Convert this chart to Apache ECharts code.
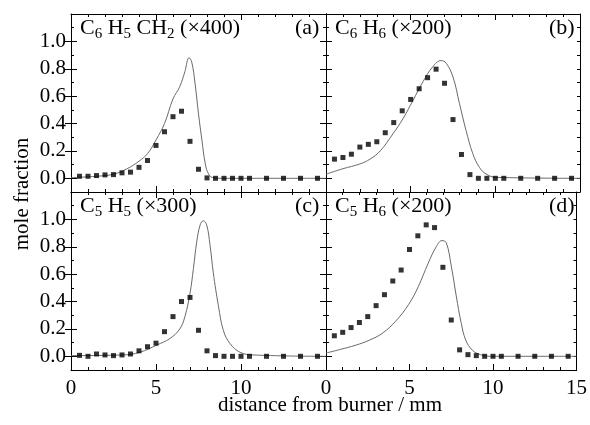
<!DOCTYPE html>
<html>
<head>
<meta charset="utf-8">
<script src="https://cdn.jsdelivr.net/npm/echarts@6/dist/echarts.min.js"></script>
<style>
  html, body { margin: 0; padding: 0; background: #fff; }
  #chart { width: 590px; height: 425px; }
</style>
</head>
<body>
<div id="chart"></div>
<script>
// measurement positions (mm from burner), shared by all four panels
const dist = [0.5, 1, 1.5, 2, 2.5, 3, 3.5, 4, 4.5, 5, 5.5, 6, 6.5, 7, 7.5, 8, 8.5, 9, 9.5, 10, 10.5, 11.5, 12.5, 13.5, 14.5]

// measured (scaled) mole fractions
const benzylMeas = [0.015, 0.015, 0.02, 0.025, 0.027, 0.04, 0.045, 0.08, 0.13, 0.24, 0.34, 0.45, 0.49, 0.27, 0.066, 0.003, 0, 0, 0, 0, 0, 0, 0, 0, 0]
const benzeneMeas = [0.14, 0.152, 0.176, 0.228, 0.248, 0.267, 0.333, 0.407, 0.493, 0.576, 0.654, 0.735, 0.797, 0.694, 0.429, 0.174, 0.027, 0, 0, 0, 0, 0, 0, 0, 0]
const cpdylMeas = [0.007, 0, 0.017, 0.01, 0.005, 0.01, 0.017, 0.04, 0.07, 0.096, 0.18, 0.29, 0.40, 0.43, 0.19, 0.04, 0.005, 0, 0, 0, 0, 0, 0, 0, 0]
const cpdMeas = [0.15, 0.175, 0.21, 0.247, 0.29, 0.37, 0.45, 0.55, 0.63, 0.78, 0.88, 0.96, 0.94, 0.65, 0.265, 0.047, 0.012, 0.005, 0, 0, 0, 0, 0, 0, 0]

// model curves
const benzylModelX = [0, 1.5, 2.5, 3.3, 4.0, 4.5, 5.0, 5.5, 6.0, 6.4, 6.7, 6.94, 7.1, 7.3, 7.5, 7.7, 7.9, 8.1, 8.4, 9, 15]
const benzylModelY = [0.005, 0.015, 0.03, 0.07, 0.125, 0.18, 0.28, 0.40, 0.58, 0.67, 0.78, 0.88, 0.85, 0.69, 0.47, 0.28, 0.105, 0.03, 0.003, 0, 0]
const benzeneModelX = [0, 1.0, 2.0, 2.6, 3.2, 3.96, 4.55, 5.14, 5.73, 6.31, 6.8, 7.1, 7.5, 7.88, 8.27, 8.67, 9.06, 9.45, 10.04, 15]
const benzeneModelY = [0.03, 0.07, 0.105, 0.14, 0.2, 0.326, 0.436, 0.57, 0.706, 0.816, 0.86, 0.84, 0.74, 0.547, 0.35, 0.18, 0.08, 0.032, 0.007, 0]
const cpdylModelX = [0, 3.08, 4.06, 5.04, 5.82, 6.4, 6.7, 7.0, 7.2, 7.4, 7.6, 7.78, 7.98, 8.18, 8.37, 8.67, 8.96, 9.35, 9.94, 10.7, 15]
const cpdylModelY = [0.005, 0.01, 0.03, 0.082, 0.13, 0.2, 0.29, 0.46, 0.64, 0.84, 0.96, 0.99, 0.96, 0.81, 0.61, 0.37, 0.19, 0.094, 0.03, 0.01, 0]
const cpdModelX = [0, 0.82, 1.8, 2.6, 3.37, 4.16, 4.94, 5.53, 6.12, 6.6, 6.94, 7.2, 7.5, 7.8, 8.1, 8.37, 8.76, 9.25, 9.84, 15]
const cpdModelY = [0.024, 0.049, 0.082, 0.118, 0.168, 0.255, 0.377, 0.51, 0.68, 0.8, 0.845, 0.83, 0.66, 0.44, 0.24, 0.118, 0.045, 0.012, 0, 0]

const yMajor = [0, 0.2, 0.4, 0.6, 0.8, 1.0]
const yMinor = [-0.1, 0, 0.1, 0.2, 0.3, 0.4, 0.5, 0.6, 0.7, 0.8, 0.9, 1.0, 1.1, 1.2]

const panels = [
  { name: '{m|C}{s|6}{m| H}{s|5}{m| CH}{s|2}{m| (×400)}', tag: '(a)', meas: benzylMeas, mx: benzylModelX, my: benzylModelY },
  { name: '{m|C}{s|6}{m| H}{s|6}{m| (×200)}', tag: '(b)', meas: benzeneMeas, mx: benzeneModelX, my: benzeneModelY },
  { name: '{m|C}{s|5}{m| H}{s|5}{m| (×300)}', tag: '(c)', meas: cpdylMeas, mx: cpdylModelX, my: cpdylModelY },
  { name: '{m|C}{s|5}{m| H}{s|6}{m| (×200)}', tag: '(d)', meas: cpdMeas, mx: cpdModelX, my: cpdModelY }
]

const font = "'Liberation Serif', 'Times New Roman', serif"
const ink = '#000'

const grids = [
  { left: 71, top: 14, width: 255, height: 178 },
  { left: 326, top: 14, width: 254, height: 178 },
  { left: 71, top: 192, width: 255, height: 178 },
  { left: 326, top: 192, width: 254, height: 178 }
]

const xAxis = []
const yAxis = []
const series = []
const title = []

grids.forEach((g, i) => {
  const isBottom = i >= 2
  const isLeft = i % 2 === 0
  ;['bottom', 'top'].forEach(pos => {
    xAxis.push({
      gridIndex: i, type: 'value', position: pos, min: 0, max: 15, interval: 5,
      axisLine: { show: true, onZero: false, lineStyle: { color: ink, width: 1 } },
      axisTick: { inside: true, length: 6, lineStyle: { color: ink } },
      minorTick: { show: true, splitNumber: 5, length: 3, lineStyle: { color: ink } },
      splitLine: { show: false },
      axisLabel: {
        show: pos === 'bottom' && isBottom, margin: 8, color: ink, fontFamily: font, fontSize: 21,
        formatter: v => (isLeft && v === 15 ? '' : String(v))
      }
    })
  })
  ;['left', 'right'].forEach(pos => {
    // minor ticks + frame line
    yAxis.push({
      gridIndex: i, type: 'value', position: pos, min: -0.1, max: 1.2,
      axisLine: { show: true, onZero: false, lineStyle: { color: ink, width: 1 } },
      axisTick: { inside: true, length: 3, customValues: yMinor, lineStyle: { color: ink } },
      splitLine: { show: false },
      axisLabel: { show: false }
    })
    // major ticks + labels
    yAxis.push({
      gridIndex: i, type: 'value', position: pos, min: -0.1, max: 1.2,
      axisLine: { show: false },
      axisTick: { inside: true, length: 6, customValues: yMajor, lineStyle: { color: ink } },
      splitLine: { show: false },
      axisLabel: {
        show: pos === 'left' && isLeft, customValues: yMajor, margin: 5,
        color: ink, fontFamily: font, fontSize: 21, formatter: v => v.toFixed(1)
      }
    })
  })

  const p = panels[i]
  series.push({
    type: 'line', xAxisIndex: i * 2, yAxisIndex: i * 4,
    data: p.mx.map((x, k) => [x, p.my[k]]),
    smooth: 0.4, showSymbol: false, silent: true,
    lineStyle: { color: '#6a6a6a', width: 1 }, z: 2
  })
  series.push({
    type: 'scatter', xAxisIndex: i * 2, yAxisIndex: i * 4,
    data: dist.map((x, k) => [x, p.meas[k]]),
    symbol: 'rect', symbolSize: 5, itemStyle: { color: '#000' }, z: 3
  })

  title.push({
    text: p.name, left: g.left + 9, top: g.top + 1, padding: 0,
    textStyle: {
      fontWeight: 'normal',
      rich: {
        m: { fontFamily: font, fontSize: 22, color: ink, fontWeight: 'normal' },
        s: { fontFamily: font, fontSize: 15, color: ink, fontWeight: 'normal', padding: [12, 0, 0, 0] }
      }
    }
  })
  title.push({
    text: p.tag, left: g.left + g.width - 31, top: g.top + 3, padding: 0,
    textStyle: { fontFamily: font, fontSize: 22, color: ink, fontWeight: 'normal' }
  })
})

const chart = echarts.init(document.getElementById('chart'))
chart.setOption({
  animation: false,
  backgroundColor: '#fff',
  title,
  grid: grids,
  xAxis,
  yAxis,
  series,
  graphic: [
    {
      type: 'text', x: 22, y: 194, rotation: Math.PI / 2,
      style: { text: 'mole fraction', fontFamily: font, fontSize: 21, fill: ink, align: 'center', verticalAlign: 'middle' }
    },
    {
      type: 'text', x: 330, y: 405,
      style: { text: 'distance from burner / mm', fontFamily: font, fontSize: 21, fill: ink, align: 'center', verticalAlign: 'middle' }
    }
  ]
})
</script>
</body>
</html>
